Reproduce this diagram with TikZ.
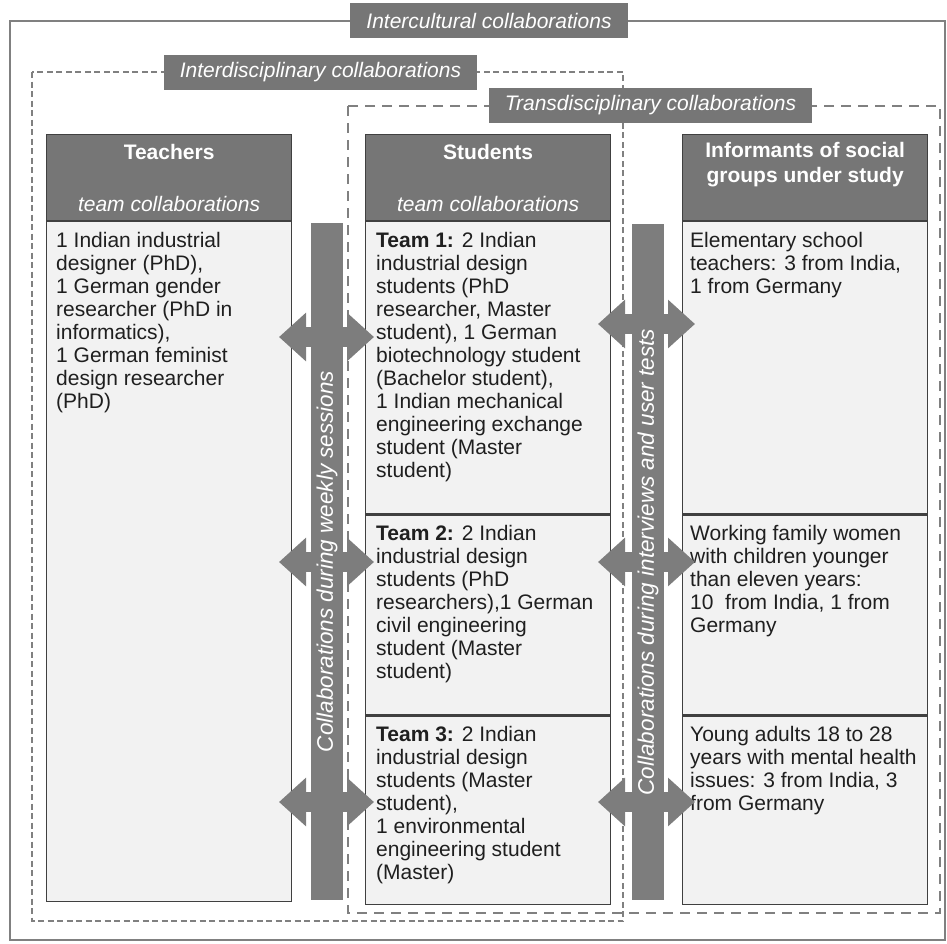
\documentclass[tikz,border=0pt]{standalone}
\usepackage{fontspec}
\setmainfont{Liberation Sans}
\usetikzlibrary{arrows.meta,calc}
\definecolor{hdgray}{RGB}{118,118,118}
\definecolor{bargray}{RGB}{125,125,125}
\definecolor{cellgray}{RGB}{242,242,242}
\definecolor{framegray}{RGB}{128,128,128}
\definecolor{edgegray}{RGB}{64,64,64}
\begin{document}
\begin{tikzpicture}[
                x=1pt, y=-1pt,
                every node/.style={font=\fontsize{21}{23}\selectfont, inner sep=0pt},
                tag/.style={fill=hdgray, text=white, font=\fontsize{21}{23}\selectfont\itshape, inner xsep=16pt, minimum height=35pt},
                headbox/.style={draw=edgegray, line width=1.2pt, fill=hdgray, anchor=north west, minimum width=245pt, minimum height=86pt},
                cellbox/.style={draw=edgegray, line width=1.2pt, fill=cellgray, anchor=north west, minimum width=245pt},
                celltext/.style={anchor=north west, align=left, text=black!88},
                headtext/.style={text=white, align=center},
                bar/.style={fill=bargray, text=white, rotate=90, minimum height=32pt, font=\fontsize{22.5}{26}\selectfont\itshape},
                link/.style={draw=bargray, line width=20pt, {Triangle[length=27pt,width=47pt]}-{Triangle[length=27pt,width=47pt]}}
            ]
                \useasboundingbox (0,0) rectangle (947,943);
                \draw[framegray, line width=1.6pt] (10,21) rectangle (945,940);
                \draw[framegray, line width=1.6pt, dash pattern=on 6pt off 3.5pt] (32,72) rectangle (623,921);
                \draw[framegray, line width=1.6pt, dash pattern=on 10pt off 7pt] (348,106) rectangle (940,913);
                \node[tag] (cult) at (489,20.5) {Intercultural collaborations};
                \node[tag] (inter) at (320.5,72) {Interdisciplinary collaborations};
                \node[tag] (trans) at (650.5,105) {Transdisciplinary collaborations};

                \node[headbox] (teach) at (46,134) {};
                \node[headbox] (stud) at (365,134) {};
                \node[headbox] (info) at (682,134) {};
                \node[headtext, font=\fontsize{21}{23}\selectfont\bfseries] (teachT) at ($(teach.north)+(0,18)$) {Teachers};
                \node[headtext, font=\fontsize{21}{23}\selectfont\itshape] (teachS) at ($(teach.south)+(0,-17)$) {team collaborations};
                \node[headtext, font=\fontsize{21}{23}\selectfont\bfseries] (studT) at ($(stud.north)+(0,18)$) {Students};
                \node[headtext, font=\fontsize{21}{23}\selectfont\itshape] (studS) at ($(stud.south)+(0,-17)$) {team collaborations};
                \node[headtext, font=\fontsize{21}{25}\selectfont\bfseries] (infoT) at ($(info.north)+(0,31)$) {Informants of social\\groups under study};

                \node[cellbox, minimum height=680pt] (tbody) at (teach.south west) {};
                \node[cellbox, minimum height=292pt] (team1) at (stud.south west) {};
                \node[cellbox, minimum height=200pt] (team2) at (team1.south west) {};
                \node[cellbox, minimum height=188pt] (team3) at (team2.south west) {};
                \node[cellbox, minimum height=292pt] (inf1) at (info.south west) {};
                \node[cellbox, minimum height=200pt] (inf2) at (inf1.south west) {};
                \node[cellbox, minimum height=188pt] (inf3) at (inf2.south west) {};

                \node[celltext] (tbodyT) at ($(tbody.north west)+(10,10)$) {\strut 1 Indian industrial\\designer (PhD),\\1 German gender\\researcher (PhD in\\informatics),\\1 German feminist\\design researcher\\(PhD)};
                \node[celltext] (team1T) at ($(team1.north west)+(11,10)$) {\strut\textbf{Team 1:} 2 Indian\\industrial design\\students (PhD\\researcher, Master\\student), 1 German\\biotechnology student\\(Bachelor student),\\1 Indian mechanical\\engineering exchange\\student (Master\\student)};
                \node[celltext] (team2T) at ($(team2.north west)+(11,10)$) {\strut\textbf{Team 2:} 2 Indian\\industrial design\\students (PhD\\researchers),1 German\\civil engineering\\student (Master\\student)};
                \node[celltext] (team3T) at ($(team3.north west)+(11,10)$) {\strut\textbf{Team 3:} 2 Indian\\industrial design\\students (Master\\student),\\1 environmental\\engineering student\\(Master)};
                \node[celltext] (inf1T) at ($(inf1.north west)+(8,10)$) {\strut Elementary school\\teachers: 3 from India,\\1 from Germany};
                \node[celltext] (inf2T) at ($(inf2.north west)+(8,10)$) {\strut Working family women\\with children younger\\than eleven years:\\10~ from India, 1 from\\Germany};
                \node[celltext] (inf3T) at ($(inf3.north west)+(8,10)$) {\strut Young adults 18 to 28\\years with mental health\\issues: 3 from India, 3\\from Germany};

                \foreach \n/\yl/\yr in {1/337/324, 2/562/562, 3/802/802} {
                    \coordinate (wl\n) at (279,\yl);
                    \coordinate (wr\n) at (374,\yl);
                    \coordinate (il\n) at (598,\yr);
                    \coordinate (ir\n) at (695,\yr);
                    \draw[link] (wl\n) -- (wr\n);
                    \draw[link] (il\n) -- (ir\n);
                }

                \node[bar, minimum width=677pt] (weekly) at (327,561.5) {Collaborations during weekly sessions};
                \node[bar, minimum width=676pt] (tests) at (648,562) {Collaborations during interviews and user tests};
            \end{tikzpicture}
\end{document}
